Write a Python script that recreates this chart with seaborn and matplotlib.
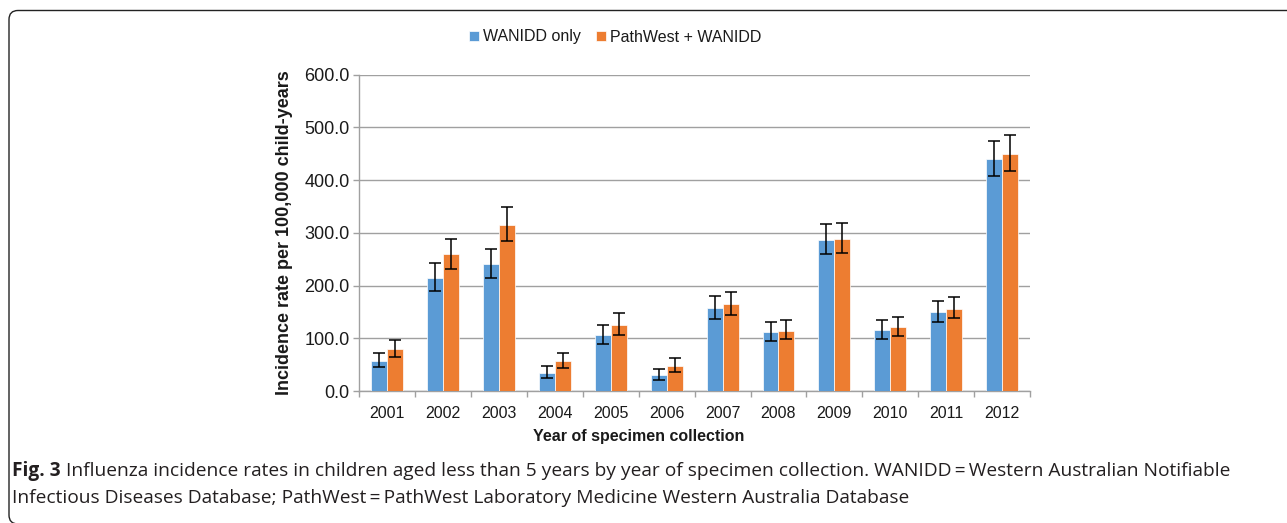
import matplotlib
matplotlib.use("Agg")
import matplotlib.pyplot as plt
import seaborn as sns
import pandas as pd
import numpy as np
from matplotlib.patches import FancyBboxPatch
from matplotlib.ticker import FormatStrFormatter, FixedLocator

years = ["2001", "2002", "2003", "2004", "2005", "2006",
         "2007", "2008", "2009", "2010", "2011", "2012"]
series_names = ["WANIDD only", "PathWest + WANIDD"]

wanidd = [57.7, 214.3, 240.3, 34.9, 105.3, 29.8, 157.3, 111.0, 287.3, 115.7, 149.9, 440.2]
wanidd_lo = [45.0, 189.6, 214.3, 24.7, 88.8, 20.9, 136.3, 94.5, 260.0, 99.3, 130.9, 408.6]
wanidd_hi = [72.9, 242.2, 270.1, 47.6, 125.6, 41.2, 180.1, 130.0, 316.4, 134.7, 171.4, 475.0]

pathwest = [79.3, 260.0, 314.5, 56.4, 125.6, 48.2, 164.9, 114.1, 289.2, 120.8, 156.2, 450.3]
pathwest_lo = [64.7, 232.1, 284.1, 43.8, 106.5, 36.8, 143.9, 97.7, 262.5, 104.4, 137.9, 418.1]
pathwest_hi = [96.4, 289.2, 348.1, 71.7, 147.7, 62.1, 188.3, 134.4, 318.3, 140.4, 178.4, 485.8]

y_ticks = [0, 100, 200, 300, 400, 500, 600]
colors = ["#5B9BD5", "#ED7D31"]

df = pd.DataFrame({
    "year": years * 2,
    "rate": wanidd + pathwest,
    "source": [series_names[0]] * len(years) + [series_names[1]] * len(years),
})

sns.set_theme(style="white")
plt.rcParams["font.family"] = ["Liberation Sans", "DejaVu Sans"]

W, H = 1287, 523
fig = plt.figure(figsize=(W / 100, H / 100), dpi=100)
ax = fig.add_axes([359.3 / W, 1 - 391 / H, (1030 - 359.3) / W, (391 - 74.7) / H])

sns.barplot(data=df, x="year", y="rate", hue="source", order=years,
            hue_order=series_names, palette=colors, saturation=1,
            width=0.57, errorbar=None, edgecolor="white", linewidth=0.5,
            ax=ax, zorder=3)

# error bars
for cont, lo, hi, mid in zip(ax.containers, [wanidd_lo, pathwest_lo],
                             [wanidd_hi, pathwest_hi], [wanidd, pathwest]):
    xs = [b.get_x() + b.get_width() / 2 for b in cont]
    mid = np.array(mid)
    yerr = [mid - np.array(lo), np.array(hi) - mid]
    ax.errorbar(xs, mid, yerr=yerr, fmt="none", ecolor="black",
                elinewidth=1.1, capsize=4.5, capthick=1.1, zorder=4)

grid_c = "#a0a0a0"
ax.set_ylim(0, 600)
ax.set_xlim(-0.5, 11.5)
ax.yaxis.set_major_locator(FixedLocator(y_ticks))
ax.yaxis.set_major_formatter(FormatStrFormatter("%.1f"))
ax.yaxis.grid(True, color=grid_c, linewidth=1.0, zorder=0)
ax.set_axisbelow(True)
for s in ["top", "right"]:
    ax.spines[s].set_visible(False)
for s in ["left", "bottom"]:
    ax.spines[s].set_color(grid_c)
    ax.spines[s].set_linewidth(1.0)

ax.tick_params(axis="y", which="major", left=True, length=4, width=1.0,
               color=grid_c, labelsize=13, labelcolor="#1a1a1a", pad=3)
ax.tick_params(axis="x", which="major", bottom=False, labelsize=11.5,
               labelcolor="#1a1a1a", pad=5)
ax.xaxis.set_minor_locator(FixedLocator(np.arange(-0.5, 12, 1.0)))
ax.tick_params(axis="x", which="minor", bottom=True, length=4, width=1.0,
               color=grid_c)

ax.set_ylabel("Incidence rate per 100,000 child-years", fontsize=13,
              fontweight="bold", color="#1a1a1a")
ax.yaxis.set_label_coords(-0.111, 0.5)
ax.yaxis.label.set_verticalalignment("center")
ax.set_xlabel("Year of specimen collection", fontsize=11.5,
              fontweight="bold", color="#1a1a1a")
ax.xaxis.set_label_coords(0.417, -0.145)
ax.xaxis.label.set_verticalalignment("center")

handles, labels = ax.get_legend_handles_labels()
if ax.get_legend() is not None:
    ax.get_legend().remove()
fig.legend(handles, labels, loc="center", bbox_to_anchor=(0.478, 1 - 37 / H),
           ncol=2, frameon=False, fontsize=11.5, handlelength=0.65,
           handleheight=0.65, handletextpad=0.25, columnspacing=0.9,
           labelcolor="#1a1a1a")

# rounded frame
box = FancyBboxPatch((9, -1), 1400, H - 10.5 + 1, boxstyle="round,pad=0,rounding_size=9",
                     transform=None, fill=False, edgecolor="#222222", linewidth=1.0)
fig.add_artist(box)

# caption
cap_c = "#231f20"
cap_fs = 13.75
cap_fam = ["Open Sans", "DejaVu Sans"]
t1 = fig.text(12 / W, 1 - 476 / H, "Fig. 3", fontsize=cap_fs, fontweight="bold",
              family=cap_fam, color=cap_c, va="baseline")
fig.canvas.draw()
bb = t1.get_window_extent()
fig.text((bb.x1 + 5) / W, 1 - 476 / H,
         "Influenza incidence rates in children aged less than 5 years by year of specimen collection. "
         "WANIDD\u2009=\u2009Western Australian Notifiable",
         fontsize=cap_fs, family=cap_fam, color=cap_c, va="baseline")
fig.text(12 / W, 1 - 503 / H,
         "Infectious Diseases Database; PathWest\u2009=\u2009PathWest Laboratory Medicine Western Australia Database",
         fontsize=cap_fs, family=cap_fam, color=cap_c, va="baseline")

fig.savefig("out.png", dpi=100)
